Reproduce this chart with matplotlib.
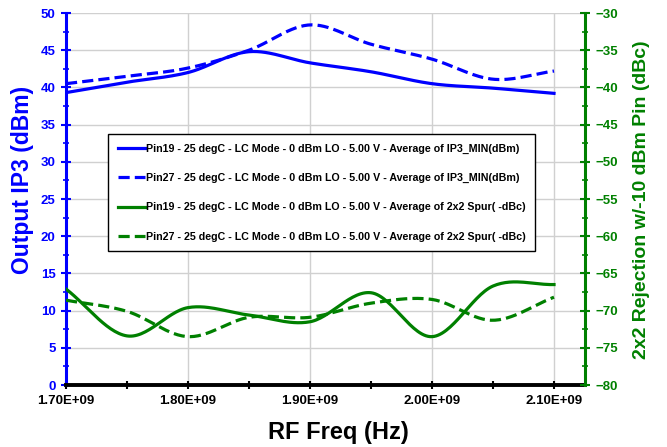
import numpy as np
import matplotlib
matplotlib.use("Agg")
import matplotlib.pyplot as plt
from matplotlib.ticker import MultipleLocator, FuncFormatter

plt.rcParams['font.family'] = ['Liberation Sans', 'DejaVu Sans']
plt.rcParams['font.weight'] = 'bold'

freq = [1.70e9, 1.75e9, 1.80e9, 1.85e9, 1.90e9, 1.95e9, 2.00e9, 2.05e9, 2.10e9]
ip3_pin19 = [39.3, 40.7, 42.0, 44.8, 43.3, 42.1, 40.5, 39.9, 39.2]
ip3_pin27 = [40.5, 41.5, 42.6, 45.0, 48.4, 45.8, 43.8, 41.1, 42.2]
spur_pin19 = [-67.1, -73.4, -69.6, -70.6, -71.5, -67.6, -73.5, -66.7, -66.5]
spur_pin27 = [-68.6, -70.1, -73.5, -70.9, -70.9, -69.0, -68.5, -71.3, -68.2]

labels = [
    "Pin19 - 25 degC - LC Mode - 0 dBm LO - 5.00 V - Average of IP3_MIN(dBm)",
    "Pin27 - 25 degC - LC Mode - 0 dBm LO - 5.00 V - Average of IP3_MIN(dBm)",
    "Pin19 - 25 degC - LC Mode - 0 dBm LO - 5.00 V - Average of 2x2 Spur( -dBc)",
    "Pin27 - 25 degC - LC Mode - 0 dBm LO - 5.00 V - Average of 2x2 Spur( -dBc)",
]

BLUE = '#0000FF'
GREEN = '#008000'


def smooth(x, y, n=30):
    """Catmull-Rom smoothing (like Excel's smoothed line) through data points."""
    x = np.asarray(x, float)
    y = np.asarray(y, float)
    px = np.concatenate([[2 * x[0] - x[1]], x, [2 * x[-1] - x[-2]]])
    py = np.concatenate([[2 * y[0] - y[1]], y, [2 * y[-1] - y[-2]]])
    xs, ys = [], []
    t = np.linspace(0, 1, n, endpoint=False)
    for i in range(1, len(px) - 2):
        for arr, out in ((px, xs), (py, ys)):
            p0, p1, p2, p3 = arr[i - 1], arr[i], arr[i + 1], arr[i + 2]
            out.extend(0.5 * ((2 * p1) + (-p0 + p2) * t + (2 * p0 - 5 * p1 + 4 * p2 - p3) * t ** 2
                              + (-p0 + 3 * p1 - 3 * p2 + p3) * t ** 3))
    xs.append(x[-1])
    ys.append(y[-1])
    return np.array(xs), np.array(ys)


fig = plt.figure(figsize=(6.67, 4.47), dpi=100)
ax = fig.add_axes([66 / 667, 62 / 447, (585 - 66) / 667, (385 - 13) / 447])
ax2 = ax.twinx()

lw = 2.3
dash = (3.5, 1.6)
h1, = ax.plot(*smooth(freq, ip3_pin19), color=BLUE, lw=lw, label=labels[0])
h2, = ax.plot(*smooth(freq, ip3_pin27), color=BLUE, lw=lw, dashes=dash, label=labels[1])
h3, = ax2.plot(*smooth(freq, spur_pin19), color=GREEN, lw=lw, label=labels[2])
h4, = ax2.plot(*smooth(freq, spur_pin27), color=GREEN, lw=lw, dashes=dash, label=labels[3])

xmax = 1.70e9 + (585 - 66) / 122 * 0.1e9
ax.set_xlim(1.70e9, xmax)
ax.set_ylim(0, 50)
ax2.set_ylim(-80, -30)

ax.xaxis.set_major_locator(MultipleLocator(0.1e9))
ax.xaxis.set_minor_locator(MultipleLocator(0.05e9))
ax.xaxis.set_major_formatter(FuncFormatter(lambda v, p: "%.2fE+09" % (v / 1e9)))
ax.yaxis.set_major_locator(MultipleLocator(5))
ax.yaxis.set_minor_locator(MultipleLocator(2.5))
ax2.yaxis.set_major_locator(MultipleLocator(5))
ax2.yaxis.set_minor_locator(MultipleLocator(2.5))

ax.grid(True, which='major', color='#d0d0d0', lw=1)
ax.set_axisbelow(True)

for a in (ax, ax2):
    a.spines['top'].set_visible(False)
ax.spines['right'].set_visible(False)
ax2.spines['left'].set_visible(False)
ax2.spines['bottom'].set_visible(False)
ax.spines['left'].set_color(BLUE)
ax.spines['left'].set_linewidth(2.2)
ax2.spines['right'].set_color(GREEN)
ax2.spines['right'].set_linewidth(2.2)
ax.spines['bottom'].set_color('black')
ax.spines['bottom'].set_linewidth(2.8)

fs_tick = 9.5
ax.tick_params(axis='y', which='major', direction='inout', length=7, width=1.5, color=BLUE,
               labelcolor=BLUE, labelsize=fs_tick, pad=4)
ax.tick_params(axis='y', which='minor', direction='inout', length=5, width=1.2, color=BLUE)
ax2.tick_params(axis='y', which='major', direction='inout', length=7, width=1.5, color=GREEN,
                labelcolor=GREEN, labelsize=fs_tick, pad=4)
ax2.tick_params(axis='y', which='minor', direction='inout', length=5, width=1.2, color=GREEN)
ax.tick_params(axis='x', which='both', direction='inout', length=6, width=1.5, color='black',
               labelcolor='black', labelsize=fs_tick, pad=4)
for t in ax.get_xticklabels() + ax.get_yticklabels() + ax2.get_yticklabels():
    t.set_fontweight('bold')

fig.text(23 / 667, 1 - 180 / 447, "Output IP3 (dBm)", rotation=90, color=BLUE, fontsize=16.5,
         fontweight='bold', ha='center', va='center')
fig.text(641 / 667, 1 - 200 / 447, "2x2 Rejection w/-10 dBm Pin (dBc)", rotation=90, color=GREEN,
         fontsize=14, fontweight='bold', ha='center', va='center')
fig.text(338 / 667, 1 - 432 / 447, "RF Freq (Hz)", color='black', fontsize=17,
         fontweight='bold', ha='center', va='center')

leg = ax2.legend(handles=[h1, h2, h3, h4], loc='upper left',
                 bbox_to_anchor=(108 / 667, 1 - 134 / 447), bbox_transform=fig.transFigure,
                 prop={'size': 7.7, 'weight': 'bold', 'family': 'Liberation Sans'},
                 frameon=True, fancybox=False, edgecolor='black', framealpha=1,
                 handlelength=2.6, handletextpad=0.05, labelspacing=1.8,
                 borderpad=0.9, borderaxespad=0)
leg.get_frame().set_linewidth(1.0)
leg.set_zorder(10)

fig.savefig("out.png", dpi=100)
